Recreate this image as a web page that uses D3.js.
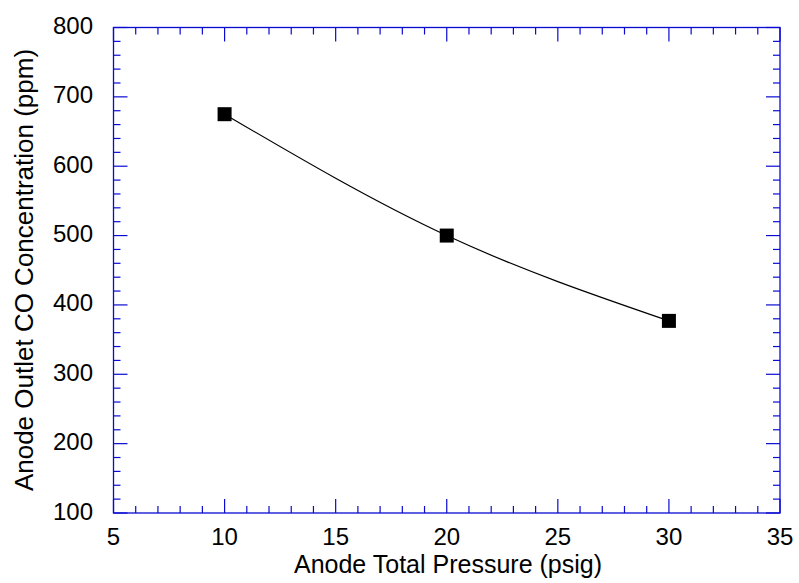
<!DOCTYPE html>
<html><head><meta charset="utf-8">
<script src="https://cdn.jsdelivr.net/npm/d3@7"></script>
<style>body{margin:0;background:#fff}</style>
</head><body>
<svg id="c" width="799" height="583"></svg>
<script>
const pressure = [10, 20, 30];
const coConc = [675, 500, 377];
const xTicks = [5, 10, 15, 20, 25, 30, 35];
const yTicks = [100, 200, 300, 400, 500, 600, 700, 800];
const xTitle = "Anode Total Pressure (psig)";
const yTitle = "Anode Outlet CO Concentration (ppm)";

const svg = d3.select("#c");
const L = 113.5, R = 780, T = 27.5, B = 513;
const x = d3.scaleLinear().domain([5, 35]).range([L, R]);
const y = d3.scaleLinear().domain([100, 800]).range([B, T]);
const axisColor = "#0a0ad2";
const font = "Liberation Sans, Arial, sans-serif";

const g = svg.append("g");
g.append("rect").attr("x", L).attr("y", T).attr("width", R - L).attr("height", B - T)
  .attr("fill", "none").attr("stroke", axisColor).attr("stroke-width", 1.3);

const xMinor = d3.range(5, 35.001, 1);
const yMinor = d3.range(100, 800.001, 20);
xMinor.forEach(v => {
  const major = v % 5 === 0;
  const len = major ? 14 : 7;
  g.append("line").attr("x1", x(v)).attr("x2", x(v)).attr("y1", B).attr("y2", B - len).attr("stroke", axisColor).attr("stroke-width", 1.2);
  g.append("line").attr("x1", x(v)).attr("x2", x(v)).attr("y1", T).attr("y2", T + len).attr("stroke", axisColor).attr("stroke-width", 1.2);
});
yMinor.forEach(v => {
  const major = v % 100 === 0;
  const len = major ? 14 : 7;
  g.append("line").attr("y1", y(v)).attr("y2", y(v)).attr("x1", L).attr("x2", L + len).attr("stroke", axisColor).attr("stroke-width", 1.2);
  g.append("line").attr("y1", y(v)).attr("y2", y(v)).attr("x1", R).attr("x2", R - len).attr("stroke", axisColor).attr("stroke-width", 1.2);
});

g.selectAll(".xt").data(xTicks).enter().append("text")
  .attr("x", d => x(d)).attr("y", 545).attr("text-anchor", "middle")
  .attr("font-family", font).attr("font-size", 24).text(d => d);
g.selectAll(".yt").data(yTicks).enter().append("text")
  .attr("x", 93).attr("y", d => y(d) + 6.5).attr("text-anchor", "end")
  .attr("font-family", font).attr("font-size", 24).text(d => d);

g.append("text").attr("x", 448).attr("y", 573).attr("text-anchor", "middle")
  .attr("font-family", font).attr("font-size", 25).text(xTitle);
g.append("text").attr("transform", `translate(32.5,270) rotate(-90)`).attr("text-anchor", "middle")
  .attr("font-family", font).attr("font-size", 26).text(yTitle);

const pts = pressure.map((p, i) => [p, coConc[i]]);
const line = d3.line().x(d => x(d[0])).y(d => y(d[1])).curve(d3.curveNatural);
g.append("path").attr("d", line(pts)).attr("fill", "none").attr("stroke", "#000").attr("stroke-width", 1.2);

g.selectAll(".m").data(pts).enter().append("rect")
  .attr("x", d => x(d[0]) - 7).attr("y", d => y(d[1]) - 7).attr("width", 14).attr("height", 14).attr("fill", "#000");
</script>
</body></html>
